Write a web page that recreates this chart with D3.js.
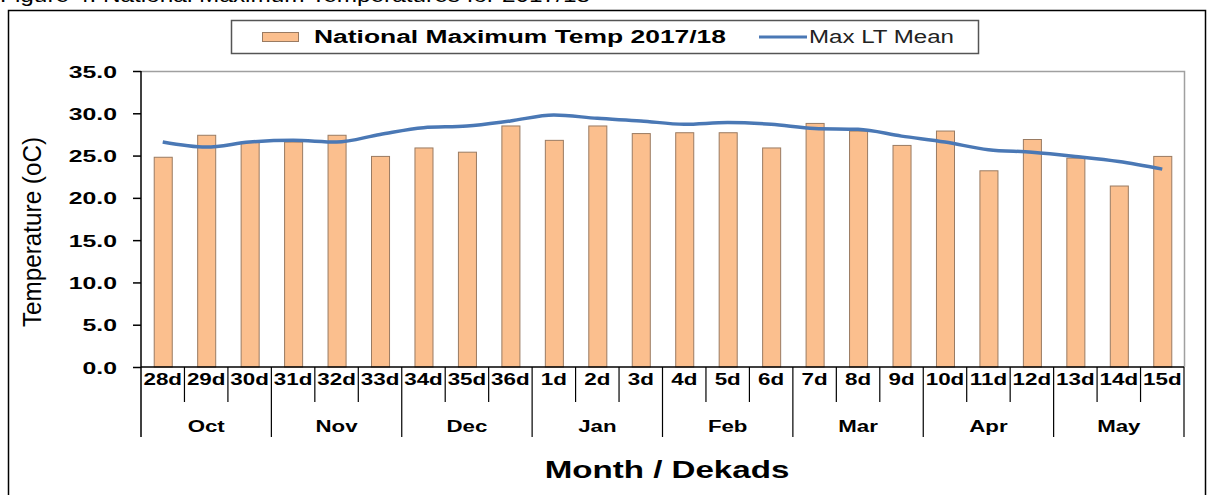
<!DOCTYPE html>
<html>
<head>
<meta charset="utf-8">
<script src="https://cdn.jsdelivr.net/npm/d3@7"></script>
<style>
  html, body { margin: 0; padding: 0; background: #fff; }
  svg { display: block; }
</style>
</head>
<body>
<svg id="chart" width="1207" height="495"></svg>
<script>
// ---- data ----
const categories = ["28d","29d","30d","31d","32d","33d","34d","35d","36d",
  "1d","2d","3d","4d","5d","6d","7d","8d","9d","10d","11d","12d","13d","14d","15d"];
const months = ["Oct","Nov","Dec","Jan","Feb","Mar","Apr","May"];
const dekadsPerMonth = 3;
const nationalMaxTemp = [24.8, 27.4, 26.6, 26.6, 27.4, 24.9, 25.9, 25.4, 28.5,
  26.8, 28.5, 27.6, 27.7, 27.7, 25.9, 28.8, 27.9, 26.2, 27.9, 23.2, 26.9, 24.7, 21.4, 24.9];
const maxLTMean = [26.6, 26.0, 26.6, 26.8, 26.6, 27.5, 28.3, 28.5, 29.1,
  29.8, 29.4, 29.1, 28.7, 28.9, 28.7, 28.2, 28.1, 27.3, 26.6, 25.7, 25.4, 24.9, 24.3, 23.4];
const yTicks = [0, 5, 10, 15, 20, 25, 30, 35];
const barLabel = "National Maximum Temp 2017/18";
const lineLabel = "Max LT Mean";
const yTitle = "Temperature (oC)";
const xTitle = "Month / Dekads";
const caption = "Figure 4: National Maximum Temperatures for 2017/18";

// ---- layout ----
const svg = d3.select("#chart");
const L = 141, R = 1184, T = 71, B = 367;
const FONT = "'Liberation Sans', Arial, sans-serif";

const x = d3.scaleBand().domain(categories).range([L, R]).paddingInner(0.585).paddingOuter(0.2925);
const xc = d3.scaleBand().domain(categories).range([L, R]);
const y = d3.scaleLinear().domain([0, 35]).range([B, T]);

// caption (cut off at top, as in the source)
svg.append("text").attr("x", 0).attr("y", 2)
  .attr("font-family", FONT).attr("font-size", 20)
  .attr("textLength", 590).attr("lengthAdjust", "spacingAndGlyphs")
  .attr("fill", "#000").text(caption);

// outer border
svg.append("rect").attr("x", 8.5).attr("y", 10.5).attr("width", 1197).attr("height", 500)
  .attr("fill", "none").attr("stroke", "#000").attr("stroke-width", 1.5);

// plot frame top/right (gray)
svg.append("path")
  .attr("d", `M${L},${T + 0.5}H${R + 0.5}V${B}`)
  .attr("fill", "none").attr("stroke", "#a0a0a0").attr("stroke-width", 1.5);

// bars
svg.append("g").selectAll("rect").data(nationalMaxTemp).join("rect")
  .attr("x", (d, i) => x(categories[i]) + 0.5)
  .attr("y", d => y(d))
  .attr("width", x.bandwidth())
  .attr("height", d => B - y(d))
  .attr("fill", "#FBBF8E")
  .attr("stroke", "#9A7B62")
  .attr("stroke-width", 1);

// line
const line = d3.line()
  .x((d, i) => xc(categories[i]) + xc.bandwidth() / 2)
  .y(d => y(d))
  .curve(d3.curveMonotoneX);
svg.append("path").datum(maxLTMean)
  .attr("d", line)
  .attr("fill", "none")
  .attr("stroke", "#4A78B5")
  .attr("stroke-width", 3.5)
  .attr("stroke-linejoin", "round");

// y axis
const yAxis = d3.axisLeft(y).tickValues(yTicks).tickFormat(d3.format(".1f")).tickSize(8).tickSizeOuter(0);
const gy = svg.append("g").attr("transform", `translate(${L},0)`).call(yAxis);
gy.select(".domain").remove();
gy.selectAll(".tick line").attr("stroke", "#000").attr("stroke-width", 1.5);
gy.selectAll(".tick text").remove();
gy.selectAll(".tick").each(function (d) {
  d3.select(this).append("g").attr("transform", "translate(-24,6) scale(1.55,1)")
    .append("text")
    .attr("text-anchor", "end")
    .attr("font-family", FONT).attr("font-weight", "bold").attr("font-size", 16)
    .attr("fill", "#000")
    .text(d3.format(".1f")(d));
});

// left axis line (extends down through the month rows)
svg.append("line").attr("x1", L).attr("x2", L).attr("y1", T).attr("y2", 437)
  .attr("stroke", "#000").attr("stroke-width", 1.5);
// x axis baseline
svg.append("line").attr("x1", L).attr("x2", R).attr("y1", B).attr("y2", B)
  .attr("stroke", "#000").attr("stroke-width", 1.5);

// category separators and labels
const xAxisG = svg.append("g");
categories.forEach((c, i) => {
  const x0 = xc(c);
  if (i > 0 && i % dekadsPerMonth !== 0) {
    xAxisG.append("line").attr("x1", x0).attr("x2", x0).attr("y1", B).attr("y2", 402)
      .attr("stroke", "#000").attr("stroke-width", 1.2);
  }
  xAxisG.append("g")
    .attr("transform", `translate(${x0 + xc.bandwidth() / 2},385) scale(1.4,1)`)
    .append("text")
    .attr("text-anchor", "middle")
    .attr("font-family", FONT).attr("font-weight", "bold").attr("font-size", 16)
    .attr("fill", "#000").text(c);
});
// month separators and labels
months.forEach((m, k) => {
  const x1 = xc(categories[(k + 1) * dekadsPerMonth - 1]) + xc.bandwidth();
  xAxisG.append("line").attr("x1", x1).attr("x2", x1).attr("y1", B).attr("y2", 437)
    .attr("stroke", "#000").attr("stroke-width", 1.2);
  const xm = xc(categories[k * dekadsPerMonth + 1]) + xc.bandwidth() / 2;
  xAxisG.append("g")
    .attr("transform", `translate(${xm},432) scale(1.35,1)`)
    .append("text")
    .attr("text-anchor", "middle")
    .attr("font-family", FONT).attr("font-weight", "bold").attr("font-size", 16.5)
    .attr("fill", "#000").text(m);
});

// axis titles
svg.append("text")
  .attr("transform", "translate(41,232) rotate(-90)")
  .attr("text-anchor", "middle")
  .attr("font-family", FONT).attr("font-size", 25)
  .attr("textLength", 190).attr("lengthAdjust", "spacingAndGlyphs")
  .attr("fill", "#000").text(yTitle);

svg.append("g").attr("transform", "translate(667,478) scale(1.38,1)")
  .append("text")
  .attr("text-anchor", "middle")
  .attr("font-family", FONT).attr("font-weight", "bold").attr("font-size", 24)
  .attr("fill", "#000").text(xTitle);

// legend
const lg = svg.append("g");
lg.append("rect").attr("x", 231.5).attr("y", 20.5).attr("width", 747).attr("height", 33)
  .attr("fill", "#fff").attr("stroke", "#555").attr("stroke-width", 1.5);
lg.append("rect").attr("x", 262.5).attr("y", 32.5).attr("width", 36).attr("height", 9)
  .attr("fill", "#FBBF8E").attr("stroke", "#9A7B62").attr("stroke-width", 1);
lg.append("text").attr("x", 314).attr("y", 43)
  .attr("font-family", FONT).attr("font-weight", "bold").attr("font-size", 17.5)
  .attr("textLength", 412).attr("lengthAdjust", "spacingAndGlyphs")
  .attr("fill", "#000").text(barLabel);
lg.append("line").attr("x1", 759).attr("x2", 807).attr("y1", 37).attr("y2", 37)
  .attr("stroke", "#4A78B5").attr("stroke-width", 3);
lg.append("text").attr("x", 809).attr("y", 43)
  .attr("font-family", FONT).attr("font-size", 17.5)
  .attr("textLength", 145).attr("lengthAdjust", "spacingAndGlyphs")
  .attr("fill", "#222").text(lineLabel);
</script>
</body>
</html>
